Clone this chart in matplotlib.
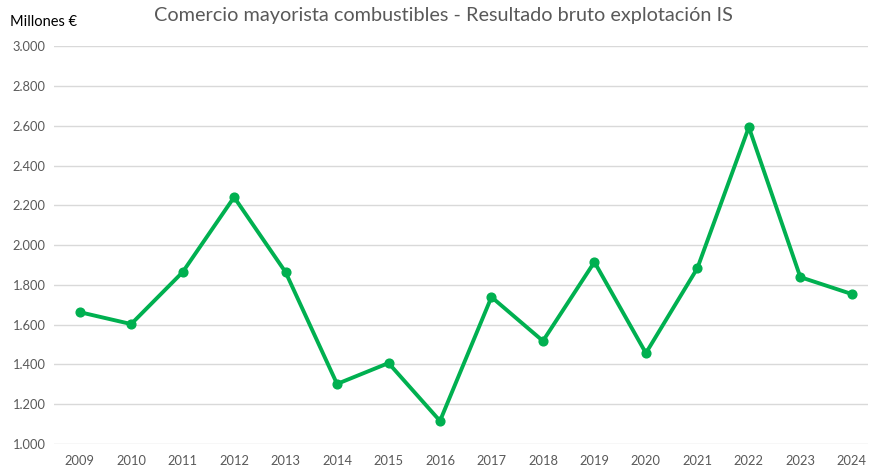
import matplotlib
matplotlib.use('Agg')
import matplotlib.pyplot as plt
from matplotlib.ticker import FuncFormatter

years = [2009, 2010, 2011, 2012, 2013, 2014, 2015, 2016,
         2017, 2018, 2019, 2020, 2021, 2022, 2023, 2024]
valores = [1663, 1603, 1864, 2241, 1864, 1302, 1407, 1116,
           1739, 1518, 1915, 1457, 1884, 2593, 1839, 1754]

plt.rcParams['font.family'] = ['Lato', 'DejaVu Sans']

fig = plt.figure(figsize=(8.7, 4.73), dpi=100)
ax = fig.add_axes([0.062, 0.0613, 0.936, 0.841])

ax.plot(years, valores, color='#00B050', linewidth=2.8, marker='o', markersize=6.3, zorder=3)

ax.set_ylim(1000, 3000)
ax.set_yticks(range(1000, 3001, 200))
ax.yaxis.set_major_formatter(FuncFormatter(lambda v, p: f'{int(v):,}'.replace(',', '.')))
ax.set_xlim(2008.5, 2024.32)
ax.set_xticks(years)

ax.grid(axis='y', color='#D9D9D9', linewidth=1)
ax.set_axisbelow(True)
for s in ax.spines.values():
    s.set_visible(False)
ax.tick_params(length=0, labelsize=9.3, colors='#595959', pad=6)
ax.tick_params(axis='x', pad=8)

fig.text(0.51, 0.968, 'Comercio mayorista combustibles - Resultado bruto explotación IS',
         ha='center', va='center', fontsize=14.3, color='#595959')
fig.text(0.012, 0.953, 'Millones €', ha='left', va='center', fontsize=10.5, color='black')

fig.savefig('out.png', dpi=100)
